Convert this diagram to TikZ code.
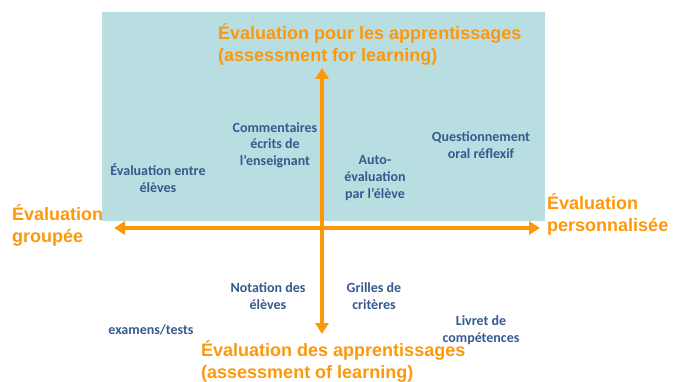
\documentclass[tikz,border=0pt]{standalone}
\usepackage{fontspec}
\setmainfont{Liberation Sans}
\newfontfamily\calib{Carlito}
\usetikzlibrary{arrows.meta}
\definecolor{axisorange}{RGB}{253,152,10}
\definecolor{panelteal}{RGB}{184,222,226}
\definecolor{itemblue}{RGB}{52,90,142}
\tikzset{
  axislabel/.style={text=axisorange, font=\bfseries\fontsize{18}{22}\selectfont, align=left, anchor=west, inner sep=0pt},
  item/.style={text=itemblue, font=\calib\bfseries\fontsize{14}{16.7}\selectfont, align=center, inner sep=0pt},
  axisarrow/.style={draw=axisorange, line width=3.6pt, -{Triangle[length=11pt,width=13pt]}}
}
\begin{document}
\begin{tikzpicture}[x=1pt,y=-1pt]
\useasboundingbox (0,0) rectangle (674,382);
\fill[panelteal] (102,12) rectangle (545,221);
% axis end points
\coordinate (vtop) at (322,68);
\coordinate (vbot) at (322,334);
\coordinate (hleft) at (114,228);
\coordinate (hright) at (540,228);
\coordinate (vmid) at (322,200);
\coordinate (hmid) at (330,228);
\draw[axisarrow] (hmid) -- (hleft);
\draw[axisarrow] (hmid) -- (hright);
\draw[axisarrow] (vmid) -- (vtop);
\draw[axisarrow] (vmid) -- (vbot);
% axis labels
\node[axislabel] (pour) at (218,44) {Évaluation pour les apprentissages\\(assessment for learning)};
\node[axislabel] (des) at (201,361) {Évaluation des apprentissages\\(assessment of learning)};
\node[axislabel] (grp) at (12,225) {Évaluation\\groupée};
\node[axislabel] (pers) at (547,214) {Évaluation\\personnalisée};
% items
\node[item] (comm) at (275,145) {Commentaires\\écrits de\\l’enseignant};
\node[item] (entre) at (158,178) {Évaluation entre\\élèves};
\node[item] (auto) at (375,178) {Auto-\\évaluation\\par l’élève};
\node[item] (quest) at (481,145) {Questionnement\\oral réflexif};
\node[item] (nota) at (268,296) {Notation des\\élèves};
\node[item] (grill) at (374,296) {Grilles de\\critères};
\node[item] (exam) at (151,330) {examens/tests};
\node[item] (livret) at (481,330) {Livret de\\compétences};
\end{tikzpicture}
\end{document}
